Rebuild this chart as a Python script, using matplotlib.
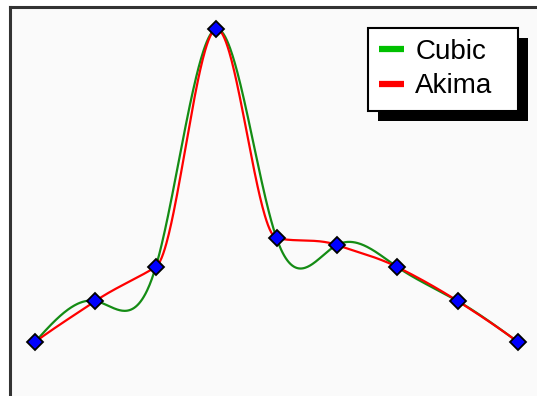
import numpy as np
import matplotlib.pyplot as plt
from matplotlib.patches import Rectangle

# data points (arbitrary units)
x_pts = np.arange(9)
y_pts = np.array([54, 95, 129, 367, 158, 151, 129, 95, 54], dtype=float)
labels = ["Cubic", "Akima"]


def natural_cubic(x, y, xs):
    n = len(x)
    h = np.diff(x).astype(float)
    A = np.zeros((n, n))
    r = np.zeros(n)
    A[0, 0] = 1
    A[-1, -1] = 1
    for i in range(1, n - 1):
        A[i, i - 1] = h[i - 1]
        A[i, i] = 2 * (h[i - 1] + h[i])
        A[i, i + 1] = h[i]
        r[i] = 3 * ((y[i + 1] - y[i]) / h[i] - (y[i] - y[i - 1]) / h[i - 1])
    c = np.linalg.solve(A, r)
    b = (y[1:] - y[:-1]) / h - h * (2 * c[:-1] + c[1:]) / 3
    d = (c[1:] - c[:-1]) / (3 * h)
    idx = np.clip(np.searchsorted(x, xs) - 1, 0, n - 2)
    t = xs - x[idx]
    return y[idx] + b[idx] * t + c[idx] * t ** 2 + d[idx] * t ** 3


def akima(x, y, xs):
    n = len(x)
    h = np.diff(x).astype(float)
    m = np.diff(y) / h
    M = np.concatenate([[3 * m[0] - 2 * m[1], 2 * m[0] - m[1]], m,
                        [2 * m[-1] - m[-2], 3 * m[-1] - 2 * m[-2]]])
    w1 = np.abs(M[3:] - M[2:-1])
    w2 = np.abs(M[1:-2] - M[:-3])
    den = w1 + w2
    t = np.where(den > 0, (w1 * M[1:-2] + w2 * M[2:-1]) / np.where(den > 0, den, 1),
                 (M[1:-2] + M[2:-1]) / 2)
    idx = np.clip(np.searchsorted(x, xs) - 1, 0, n - 2)
    s = xs - x[idx]
    hi = h[idx]
    c2 = (3 * m[idx] - 2 * t[idx] - t[idx + 1]) / hi
    c3 = (t[idx] + t[idx + 1] - 2 * m[idx]) / hi ** 2
    return y[idx] + t[idx] * s + c2 * s ** 2 + c3 * s ** 3


xs = np.linspace(x_pts[0], x_pts[-1], 600)
y_cubic = natural_cubic(x_pts, y_pts, xs)
y_akima = akima(x_pts, y_pts, xs)

W, H = 537, 396
fig = plt.figure(figsize=(W / 100, H / 100), dpi=100, facecolor="white")

# axes frame: left/top edges visible, right/bottom run past the image
L, T, R, B = 9.5, 6.5, 600, 440
ax = fig.add_axes([L / W, (H - B) / H, (R - L) / W, (B - T) / H])
ax.set_facecolor("#fafafa")
x0, dx = 35, 60.375
ax.set_xlim((L - x0) / dx, (R - x0) / dx)
ax.set_ylim(H - B, H - T)
ax.set_xticks([])
ax.set_yticks([])
for side in ["top", "left"]:
    ax.spines[side].set_linewidth(2.2)
    ax.spines[side].set_color("#333333")
for side in ["right", "bottom"]:
    ax.spines[side].set_visible(False)

ax.plot(xs, y_cubic, color="#148c14", lw=1.6, label=labels[0], zorder=2)
ax.plot(xs, y_akima, color="#ff0000", lw=1.6, label=labels[1], zorder=3)
ax.plot(x_pts, y_pts, linestyle="none", marker="D", ms=7.8, mfc="#0000ff",
        mec="black", mew=1.3, zorder=4)

leg = ax.legend(loc="upper left",
                bbox_to_anchor=(368 / W, (H - 108) / H, 150 / W, 80 / H),
                mode="expand",
                bbox_transform=fig.transFigure, borderaxespad=0, fancybox=False,
                framealpha=1, edgecolor="black",
                prop={"family": "Liberation Sans", "size": 20},
                handlelength=0.9, handletextpad=0.4, borderpad=0.4,
                labelspacing=0.3)
leg.get_frame().set_linewidth(1.5)
leg.get_frame().set_facecolor("white")
for line, col in zip(leg.get_lines(), ["#00c000", "#ff0000"]):
    line.set_color(col)
    line.set_linewidth(4.5)
    line.set_solid_capstyle("butt")

# solid black drop shadow behind the legend box
fig.canvas.draw()
bb = leg.get_window_extent()
inv = fig.transFigure.inverted()
(fx0, fy0), (fx1, fy1) = inv.transform([(bb.x0 + 10, bb.y0 - 10), (bb.x1 + 10, bb.y1 - 10)])
ax.add_patch(Rectangle((fx0, fy0), fx1 - fx0, fy1 - fy0, transform=fig.transFigure,
                       facecolor="black", edgecolor="none", clip_on=False, zorder=4.9))

fig.savefig("out.png", dpi=100)
